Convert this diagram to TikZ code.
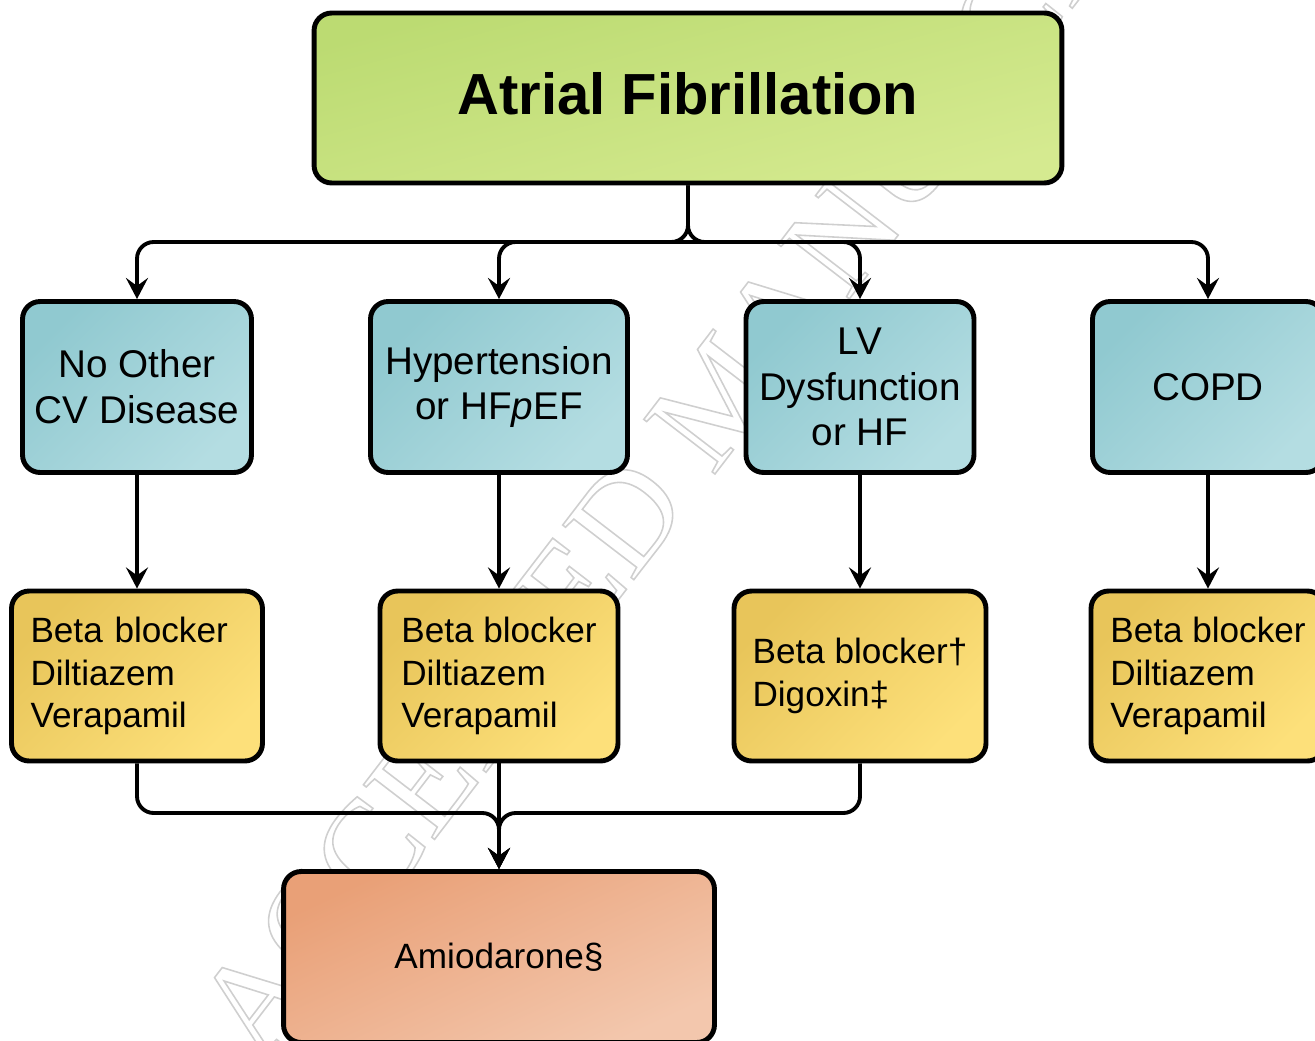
\documentclass[tikz,border=0pt]{standalone}
\usepackage{xcolor}
\usepackage{fontspec}
\setmainfont{Liberation Sans}
\newfontfamily\wmfont{Liberation Serif}
\usepackage{tikz}
\usetikzlibrary{arrows.meta,positioning}

\definecolor{greenA}{HTML}{BCDB72}
\definecolor{greenB}{HTML}{D5EA90}
\definecolor{blueA}{HTML}{90C9D0}
\definecolor{blueB}{HTML}{B4DDE2}
\definecolor{goldA}{HTML}{E8C55A}
\definecolor{goldB}{HTML}{FDE07A}
\definecolor{peachA}{HTML}{E9A077}
\definecolor{peachB}{HTML}{F3C7AD}

\newcommand{\hollow}[1]{\special{pdf:literal direct q 1 Tr 0.9 w}#1\special{pdf:literal direct Q}}

\begin{document}
\begin{tikzpicture}[
			x = 0.02cm, y = -0.02cm,
			every node/.style = {scale = 1},
			box/.style = {draw, line width = 2.8pt, rounded corners = 10pt, inner sep = 0pt, minimum height = 3.42cm},
			title/.style = {box, top color = greenA, bottom color = greenB, shading angle = 15, minimum width = 14.96cm, minimum height = 3.4cm, text depth = 5pt, font = \fontsize{33}{38}\selectfont\bfseries},
			cond/.style = {box, top color = blueA, bottom color = blueB, shading angle = 45, align = center, font = \fontsize{22}{26}\selectfont},
			drug/.style = {box, top color = goldA, bottom color = goldB, shading angle = 45, minimum height = 3.4cm, align = left, font = \fontsize{20}{24.4}\selectfont},
			last/.style = {box, top color = peachA, bottom color = peachB, shading angle = 25, font = \fontsize{20}{24}\selectfont},
			conn/.style = {line width = 2.2pt, rounded corners = 9.5pt, -{Stealth[length = 12pt, width = 12.5pt, inset = 4.5pt]}},
			wm/.style = {rotate = 52.5, text = black!19, inner sep = 0pt, font = \wmfont\fontsize{78}{78}\selectfont}
			]

			\useasboundingbox (0,0) rectangle (1315,1041);
			\clip (0,0) rectangle (1315,1041);

			\node[wm] (mark) at (720,394) {\hollow{ACCEPTED MANUSCRIPT}};

			\node[title] (af) at (688,98) {Atrial Fibrillation};

			\node[cond, minimum width = 4.58cm] (c1) at (137,387) {No Other\\CV Disease};
			\node[cond, minimum width = 5.14cm] (c2) at (499,387) {Hypertension\\or HF\textit{p}EF};
			\node[cond, minimum width = 4.56cm] (c3) at (860,387) {LV\\Dysfunction\\or HF};
			\node[cond, minimum width = 4.62cm] (c4) at (1208,387) {COPD};

			\node[drug, minimum width = 5.02cm, text width = 4.26cm] (d1) at (137,676) {Beta blocker\\Diltiazem\\Verapamil};
			\node[drug, minimum width = 4.76cm] (d2) at (499,676) {Beta blocker\\Diltiazem\\Verapamil};
			\node[drug, minimum width = 5.04cm] (d3) at (860,676) {Beta blocker†\\Digoxin‡};
			\node[drug, minimum width = 4.68cm] (d4) at (1208,676) {Beta blocker\\Diltiazem\\Verapamil};

			\node[last, minimum width = 8.62cm] (am) at (499,957) {Amiodarone§};

			\coordinate (split) at (688,242);
			\coordinate (join) at (499,813);

			\draw[conn] (af.south) -- (split) -| (c1.north);
			\draw[conn] (split) -| (c2.north);
			\draw[conn] (split) -| (c3.north);
			\draw[conn] (af.south) -- (split) -| (c4.north);

			\draw[conn] (c1) -- (d1);
			\draw[conn] (c2) -- (d2);
			\draw[conn] (c3) -- (d3);
			\draw[conn] (c4) -- (d4);

			\draw[conn] (d1.south) |- (join) -- (am.north);
			\draw[conn] (d3.south) |- (join) -- (am.north);
			\draw[conn] (d2) -- (am);

		\end{tikzpicture}
\end{document}
